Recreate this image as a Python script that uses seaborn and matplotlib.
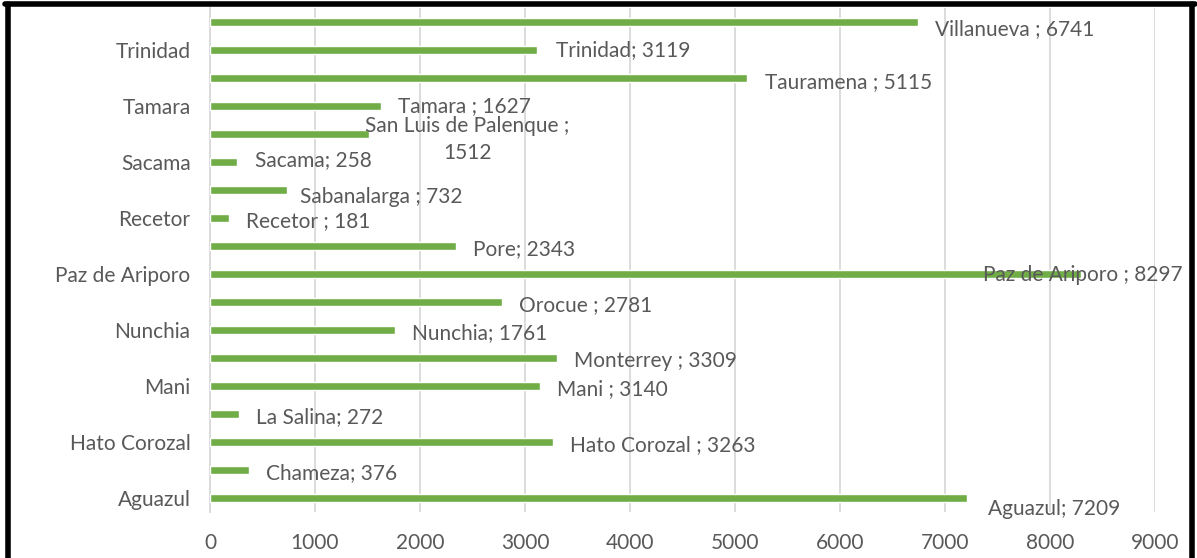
import matplotlib
matplotlib.use("Agg")
import matplotlib.pyplot as plt
from matplotlib.lines import Line2D
import pandas as pd
import seaborn as sns

# Data (top to bottom as drawn)
municipios = ["Villanueva", "Trinidad", "Tauramena", "Tamara", "San Luis de Palenque",
              "Sacama", "Sabanalarga", "Recetor", "Pore", "Paz de Ariporo", "Orocue",
              "Nunchia", "Monterrey", "Mani", "La Salina", "Hato Corozal", "Chameza", "Aguazul"]
valores = [6741, 3119, 5115, 1627, 1512, 258, 732, 181, 2343, 8297, 2781,
           1761, 3309, 3140, 272, 3263, 376, 7209]
etiquetas = ["Villanueva ; 6741", "Trinidad; 3119", "Tauramena ; 5115", "Tamara ; 1627",
             "San Luis de Palenque ;\n1512", "Sacama; 258", "Sabanalarga ; 732",
             "Recetor ; 181", "Pore; 2343", "Paz de Ariporo ; 8297", "Orocue ; 2781",
             "Nunchia; 1761", "Monterrey ; 3309", "Mani ; 3140", "La Salina; 272",
             "Hato Corozal ; 3263", "Chameza; 376", "Aguazul; 7209"]
x_ticks = [0, 1000, 2000, 3000, 4000, 5000, 6000, 7000, 8000, 9000]

df = pd.DataFrame({"municipio": municipios, "valor": valores})

sns.set_style("white")
plt.rcParams["font.family"] = ["Lato", "DejaVu Sans"]
TXT = "#595959"
GREEN = "#70AD47"

fig = plt.figure(figsize=(11.97, 5.58), dpi=100)
ax = fig.add_axes([210 / 1197, 46 / 558, (1155 - 210) / 1197, (558 - 8 - 46) / 558])

sns.barplot(data=df, x="valor", y="municipio", order=municipios, color=GREEN,
            width=0.31, saturation=1, ax=ax, zorder=3)

ax.set_xlim(0, 9000)
ax.set_ylim(len(municipios) - 0.5, -0.5)
ax.set_xticks(x_ticks)
ax.set_xticklabels([str(t) for t in x_ticks], fontsize=15, color=TXT)
ax.tick_params(axis="x", length=0, pad=15)
ax.grid(axis="x", color="#D9D9D9", linewidth=1.3, zorder=0)

# show every other category label, starting from the bottom
ylabels = [m if (len(municipios) - 1 - i) % 2 == 0 else "" for i, m in enumerate(municipios)]
ax.set_yticks(range(len(municipios)))
ax.set_yticklabels(ylabels, fontsize=15, color=TXT)
ax.tick_params(axis="y", length=0, pad=14)
ax.set_yticks([i - 0.5 for i in range(len(municipios) + 1)], minor=True)
ax.tick_params(axis="y", which="minor", length=5, color="#D9D9D9", width=1.3)
ax.set_xlabel("")
ax.set_ylabel("")

for s in ["top", "right", "bottom"]:
    ax.spines[s].set_visible(False)
ax.spines["left"].set_color("#D9D9D9")
ax.spines["left"].set_linewidth(1.3)

# label offsets in pixels (dx, dy); default right and slightly below bar
offsets = {"Villanueva": (17, -7), "Trinidad": (19, 0), "Tauramena": (18, -4),
           "Tamara": (17, 0), "Sacama": (18, 2), "Sabanalarga": (13, -7),
           "Paz de Ariporo": (-98, -1), "Aguazul": (21, -11)}
for i, (m, v, lab) in enumerate(zip(municipios, valores, etiquetas)):
    if m == "San Luis de Palenque":
        ax.annotate(lab, xy=(v, i), xytext=(71, -4), textcoords="offset points",
                    ha="center", va="center", fontsize=15, color=TXT,
                    linespacing=1.45, zorder=4)
        continue
    dx, dy = offsets.get(m, (17, -3))
    ax.annotate(lab, xy=(v, i), xytext=(dx * 0.72, dy * 0.72), textcoords="offset points",
                ha="left", va="center", fontsize=15, color=TXT, zorder=4)

# black frame around the chart (bottom edge cut off)
W, H = 1197, 558
x0, x1, ytop = 7.5 / W, 1192 / W, 1 - 3.5 / H
fig.add_artist(Line2D((x0, x0), (-0.02, ytop), transform=fig.transFigure,
                      color="black", linewidth=4, zorder=10))
fig.add_artist(Line2D((x1, x1), (-0.02, ytop), transform=fig.transFigure,
                      color="black", linewidth=4, zorder=10))
fig.add_artist(Line2D((x0 - 2.75 / W, x1 + 2.75 / W), (ytop, ytop), transform=fig.transFigure,
                      color="black", linewidth=4, zorder=11))

fig.savefig("out.png", dpi=100)
